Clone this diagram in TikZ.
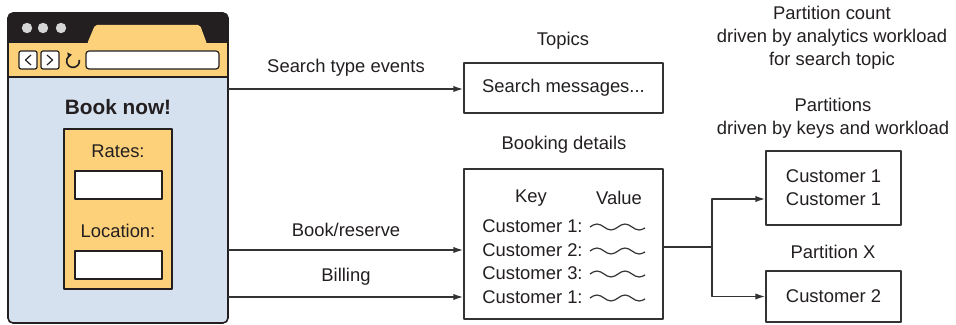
\documentclass[tikz,border=0pt]{standalone}
\usepackage{fontspec}
\setmainfont{Liberation Sans}
\usetikzlibrary{arrows.meta,positioning}
\definecolor{FrameDark}{RGB}{35,31,32}
\definecolor{PageBlue}{RGB}{214,225,239}
\definecolor{BarYellow}{RGB}{253,209,122}
\definecolor{DotGray}{RGB}{214,214,214}
\definecolor{LineGray}{RGB}{51,51,51}

\begin{document}
\begin{tikzpicture}[x=0.5pt, y=-0.5pt, line join=round,
	every node/.style={font=\fontsize{9.2}{11.5}\selectfont, text=FrameDark, inner sep=0pt},
	box/.style={draw=LineGray, line width=0.75pt, fill=white, minimum width=99.5pt, align=center},
	lbl/.style={align=center},
	ln/.style={draw=LineGray, line width=0.75pt},
	arr/.style={ln, -{Latex[length=5pt,width=3.2pt]}},
	field/.style={draw=FrameDark, line width=0.6pt, fill=white}]
	
	\useasboundingbox (0,0) rectangle (956,325);
	
	% 浏览器窗口
	\fill[PageBlue, rounded corners=2.5pt] (8,13) rectangle (228,323);
	\begin{scope}
		\clip[rounded corners=2.5pt] (8,13) rectangle (228,323);
		\fill[FrameDark] (8,13) rectangle (228,43);
		\fill[BarYellow] (8,43) rectangle (228,77);
	\end{scope}
	\fill[BarYellow, rounded corners=1pt] (87,44) -- (95,25) -- (200,25) -- (207,44) -- cycle;
	\draw[FrameDark, line width=0.8pt] (8,77) -- (228,77);
	\draw[FrameDark, line width=0.8pt, rounded corners=2.5pt] (8,13) rectangle (228,323);
	
	% 工具栏
	\foreach \dx in {27,43,61}
		\fill[DotGray] (\dx,28) circle (2.6pt);
	\draw[field, rounded corners=1pt] (19,51) rectangle (37,69);
	\draw[field, rounded corners=1pt] (41,51) rectangle (59,69);
	\draw[FrameDark, line width=0.6pt] (31,55) -- (25.5,60) -- (31,65);
	\draw[FrameDark, line width=0.6pt] (47,55) -- (52.5,60) -- (47,65);
	\begin{scope}[shift={(73,61)}, x=1pt, y=1pt]
		\draw[FrameDark, line width=0.8pt, -{Latex[length=2.2pt,width=3.2pt]}]
			(10:3.2) arc[start angle=10, end angle=-262, radius=3.2];
	\end{scope}
	\draw[field, rounded corners=1.5pt] (86,51) rectangle (219,69);
	
	% 表单
	\node[font=\fontsize{10.4}{12}\selectfont\bfseries] (booknow) at (118,107) {Book now!};
	\draw[FrameDark, line width=0.7pt, fill=BarYellow] (64,129) rectangle (172,289);
	\node (rates) at (118,151) {Rates:};
	\draw[field] (75,171) rectangle (162,199);
	\node (loc) at (118,231) {Location:};
	\draw[field] (75,251) rectangle (162,279);
	
	\coordinate (web1) at (228,89);
	\coordinate (web2) at (228,250);
	\coordinate (web3) at (228,297);
	
	% 主题
	\node[lbl] (topics) at (563,41) {Topics};
	\node[box, minimum height=25pt] (srch) at (563.5,88) {Search messages...};
	\node[lbl] (evt) at (346,68) {Search type events};
	\draw[arr] (web1) -- (srch.west |- web1);
	
	\node[lbl] (bklbl) at (564,145) {Booking details};
	\node[box, minimum height=75pt] (book) at (563.5,244) {};
	\node (key) at (531,198) {Key};
	\node (val) at (619,198) {Value};
	\foreach \n/\c/\yy in {1/1/226, 2/2/250, 3/3/273, 4/1/297} {
		\node[anchor=west] (row\n) at (482,\yy) {Customer \c:};
		\draw[LineGray, line width=0.6pt] (590,\yy+1) sin ++(7,-3) cos ++(7,3) sin ++(7,3) cos ++(7,-3)
			sin ++(7,-3) cos ++(7,3) sin ++(7,3) cos ++(6,-2);
	}
	
	\node[lbl] (rsv) at (346,230) {Book/reserve};
	\node[lbl] (bill) at (346,277) {Billing};
	\draw[arr] (web2) -- (book.west |- web2);
	\draw[arr] (web3) -- (book.west |- web3);
	
	% 分区
	\node[lbl] (pcount) at (832,38) {Partition count\\driven by analytics workload\\for search topic};
	\node[lbl] (ptitle) at (833,118) {Partitions\\driven by keys and workload};
	\node[box, minimum width=67.5pt, minimum height=37pt] (p1) at (833.5,188) {Customer 1\\Customer 1};
	\node[lbl] (px) at (833,252) {Partition X};
	\node[box, minimum width=67.5pt, minimum height=25.5pt] (p2) at (833.5,296.5) {Customer 2};
	
	\coordinate (split) at (712,247);
	\draw[ln] (book.east |- split) -- (split);
	\draw[arr] (split) |- (p1.west |- 0,199);
	\draw[arr] (split) |- (p2.west);
\end{tikzpicture}
\end{document}
